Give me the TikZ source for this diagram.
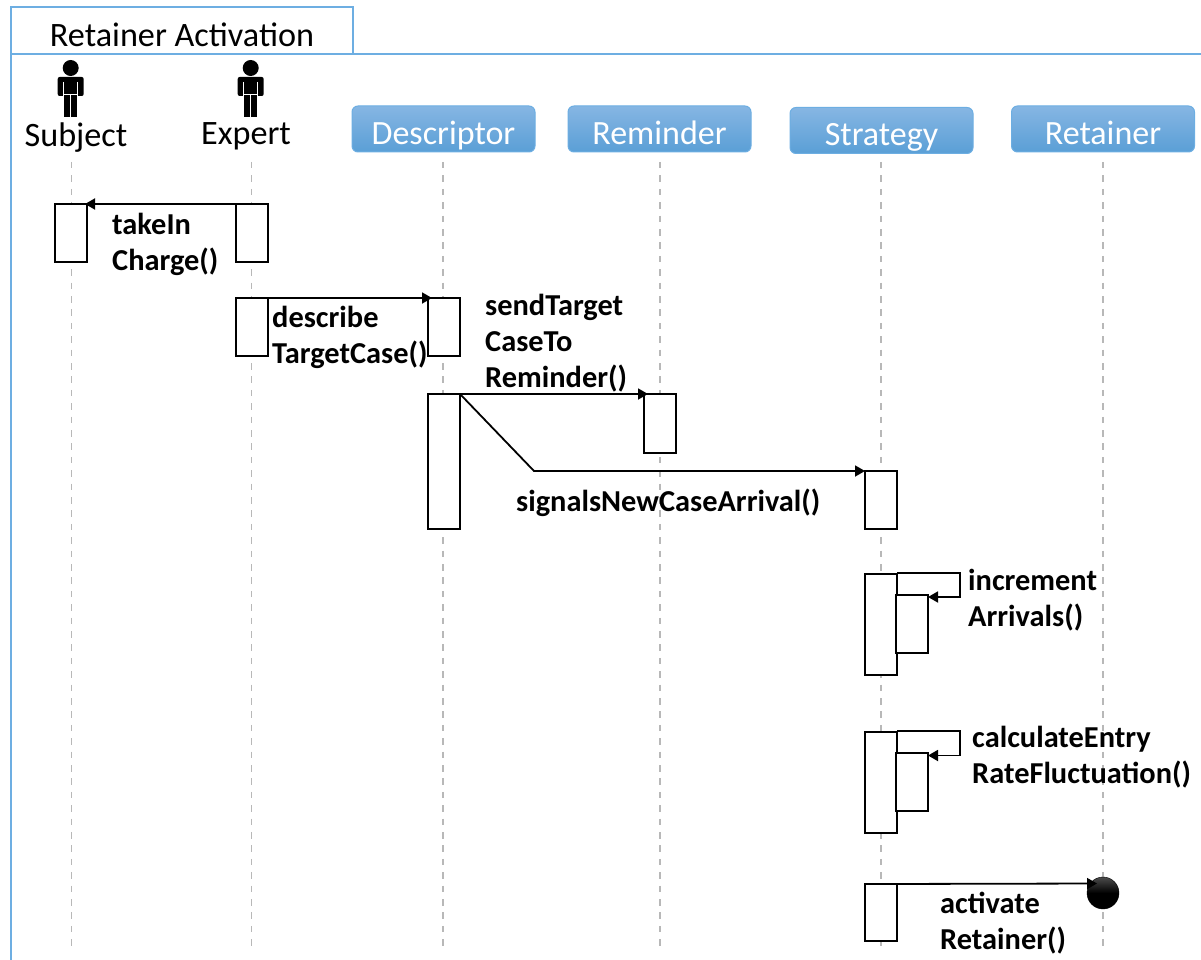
\documentclass[tikz,border=0pt]{standalone}
\usepackage{fontspec}
\setmainfont{Carlito}
\usetikzlibrary{arrows.meta,positioning}
\definecolor{framecolor}{HTML}{6DAEE2}
\definecolor{headtop}{HTML}{86B6E3}
\definecolor{headbottom}{HTML}{5A9FD6}

\begin{document}
\begin{tikzpicture}[x=1pt, y=-1pt
    , framebox/.style = {rectangle,draw=framecolor,line width=1.6pt,minimum width=342pt,minimum height=47pt,outer sep=0pt,inner sep=0pt,text height=32pt,text depth=0pt,font=\fontsize{34.2}{34}\selectfont}
    , frameline/.style = {draw=framecolor,line width=1.6pt}
    , headbox/.style = {rectangle,rounded corners=6pt,draw=framecolor,line width=1pt,top color=headtop,bottom color=headbottom,text=white,minimum width=183pt,minimum height=46pt,outer sep=0pt,inner sep=0pt,text height=31pt,text depth=0pt,font=\fontsize{34}{34}\selectfont}
    , actorname/.style = {font=\fontsize{34.2}{34}\selectfont,inner sep=0pt,anchor=base}
    , lifeline/.style = {draw=black!28,line width=1.6pt,dash pattern=on 6.5pt off 6.9pt}
    , bar/.style = {rectangle,draw=black,fill=white,line width=1.8pt,minimum width=32pt,outer sep=0pt,inner sep=0pt,anchor=north}
    , msg/.style = {draw=black,line width=1.8pt,-{Triangle[length=10pt,width=11pt]}}
    , msgtext/.style = {font=\fontsize{30.4}{36}\selectfont\bfseries,align=left,inner sep=0pt,anchor=north west}
    , actor/.pic = {
        \fill (0,0) circle (8);
        \fill[rounded corners=2] (-13,9) rectangle (13,28);
        \fill (-6.5,26) rectangle (6.5,49);
        \draw[white,line width=0.7pt] (-7,14) -- (-7,29) (7,14) -- (7,29) (-6.5,26.5) -- (6.5,26.5) (0,26.5) -- (0,49);
      }
]
\useasboundingbox (0,0) rectangle (1201,960);

\node[framebox] (title) at (182,30.5) {Retainer Activation};
\coordinate (frameBottom) at (11,960);
\coordinate (frameRight) at (1201,54);
\draw[frameline] (title.south west) -- (frameBottom);
\draw[frameline] (title.south east) -- (frameRight);

\pic at (70.7,68) {actor};
\pic at (250.7,68) {actor};
\node[actorname] (subject) at (76,147) {Subject};
\node[actorname] (expert) at (246,145) {Expert};
\foreach \n/\t/\x/\y in {descriptor/Descriptor/443.5/129, reminder/Reminder/659.5/129, strategy/Strategy/881.5/130.5, retainer/Retainer/1103/129}
    \node[headbox] (\n) at (\x,\y) {\t};

\foreach \n/\x in {subject/71.5, expert/251.5, descriptor/443, reminder/660, strategy/881, retainer/1103} {
    \coordinate (\n Top) at (\x,162);
    \coordinate (\n End) at (\x,950);
    \draw[lifeline] (\n Top) -- (\n End);
}

\foreach \n/\x/\y/\h in {
    subjectA/71/204/58, expertA/252/204/58,
    expertB/252/298/58, descriptorA/444/298/58,
    descriptorB/444/394/135, reminderA/660/394/59,
    strategyA/881/471/58,
    strategyB/881/574/101, strategyC/912/595/58,
    strategyD/881/732/101, strategyE/912/753/58,
    strategyF/881/884/57}
    \node[bar,minimum height=\h pt] (\n) at (\x,\y) {};

\node[circle,minimum size=32pt,inner sep=0pt,outer sep=0pt,top color=black!70,bottom color=black,middle color=black,draw=black] (finish) at (1103,893) {};
\coordinate (selfOneA) at (960,573);
\coordinate (selfOneB) at (960,597);
\coordinate (selfTwoA) at (960,731);
\coordinate (selfTwoB) at (960,755.5);
\coordinate (bend) at (534,471);
\coordinate (finishIn) at (1097,883.5);

\draw[msg] (expertA.north west) -- ([xshift=-2pt]subjectA.north east);
\draw[msg] (expertB.north) -- ([xshift=4pt]descriptorA.north west);
\draw[msg] (descriptorB.north east) -- ([xshift=4pt]reminderA.north west);
\draw[msg] (descriptorB.north east) -- (bend) -- (strategyA.north west);
\draw[msg] (strategyB.north east) ++(0,-1) -- (selfOneA) -- (selfOneB) -- (selfOneB -| strategyC.east);
\draw[msg] (strategyD.north east) ++(0,-1) -- (selfTwoA) -- (selfTwoB) -- (selfTwoB -| strategyE.east);
\draw[msg] (strategyF.north) -- (finishIn);

\node[msgtext] (takeIn) at (112,213) {takeIn\\Charge()};
\node[msgtext] (describe) at (272,306) {describe\\TargetCase()};
\node[msgtext] (sendTarget) at (485,294) {sendTarget\\CaseTo\\Reminder()};
\node[msgtext] (signals) at (516,489) {signalsNewCaseArrival()};
\node[msgtext] (increment) at (968,569) {increment\\Arrivals()};
\node[msgtext] (calculate) at (972,726) {calculateEntry\\RateFluctuation()};
\node[msgtext] (activate) at (940,892) {activate\\Retainer()};
\end{tikzpicture}
\end{document}
